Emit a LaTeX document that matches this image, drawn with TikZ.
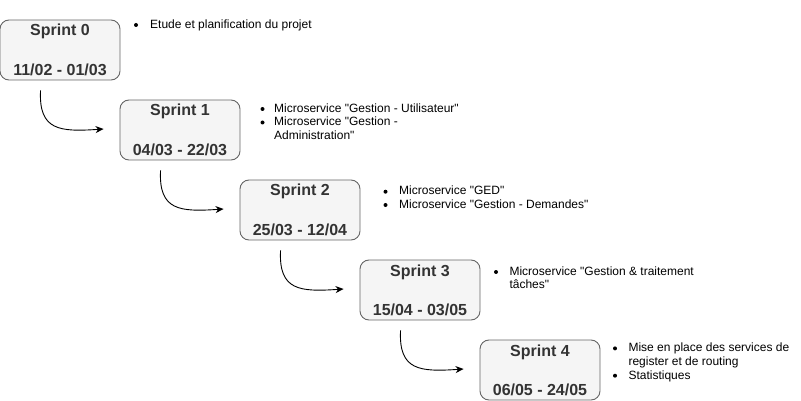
\documentclass[tikz,border=0pt]{standalone}
\usepackage{fontspec}
\newfontfamily\af{Liberation Sans}
\usetikzlibrary{arrows.meta,calc}
\definecolor{boxfill}{HTML}{F5F5F5}
\definecolor{boxline}{HTML}{666666}
\definecolor{titlecol}{HTML}{333333}
\tikzset{
  sprintbox/.style={draw=boxline,fill=boxfill,line width=0.9pt,rounded corners=9pt,minimum width=120pt,minimum height=60pt,inner sep=0pt},
  titletext/.style={font=\af\fontsize{16}{18}\selectfont\bfseries,text=titlecol,anchor=base,inner sep=0pt},
  itemtext/.style={font=\af\fontsize{12}{14}\selectfont,text=black,anchor=base west,inner sep=0pt},
  bul/.style={circle,fill=black,inner sep=0pt,minimum size=4pt},
  flow/.style={line width=0.9pt,-{Stealth[length=8pt,width=7pt,inset=2.5pt]}}
}
\begin{document}
\begin{tikzpicture}[x=1pt,y=-1pt]
\useasboundingbox (0,0) rectangle (801,401);
% boxes
\node[sprintbox] (s0) at (60,50) {};
\node[sprintbox] (s1) at (180,130) {};
\node[sprintbox] (s2) at (300,210) {};
\node[sprintbox] (s3) at (420,290) {};
\node[sprintbox] (s4) at (540,370) {};
% titles and dates
\node[titletext] (t0) at (60,36) {Sprint 0};
\node[titletext] (d0) at (60,75.5) {11/02 - 01/03};
\node[titletext] (t1) at (180,116) {Sprint 1};
\node[titletext] (d1) at (180,155.5) {04/03 - 22/03};
\node[titletext] (t2) at (300,196) {Sprint 2};
\node[titletext] (d2) at (300,235.5) {25/03 - 12/04};
\node[titletext] (t3) at (420,276) {Sprint 3};
\node[titletext] (d3) at (420,315.5) {15/04 - 03/05};
\node[titletext] (t4) at (540,356) {Sprint 4};
\node[titletext] (d4) at (540,395.5) {06/05 - 24/05};
% items sprint 0
\node[bul] (b0a) at (136,25) {};
\node[itemtext] (i0a) at (150,28.5) {Etude et planification du projet};
% items sprint 1
\node[bul] (b1a) at (262.5,109) {};
\node[itemtext] (i1a) at (274,112.3) {Microservice "Gestion - Utilisateur"};
\node[bul] (b1b) at (262.5,122.5) {};
\node[itemtext] (i1b) at (274,125.8) {Microservice "Gestion -};
\node[itemtext] (i1c) at (274,139.2) {Administration"};
% items sprint 2
\node[bul] (b2a) at (385.5,191.7) {};
\node[itemtext] (i2a) at (399,195) {Microservice "GED"};
\node[bul] (b2b) at (385.5,205) {};
\node[itemtext] (i2b) at (399,208.4) {Microservice "Gestion - Demandes"};
% items sprint 3
\node[bul] (b3a) at (496,272) {};
\node[itemtext] (i3a) at (509.3,275.3) {Microservice "Gestion \& traitement};
\node[itemtext] (i3b) at (509.3,288.7) {tâches"};
% items sprint 4
\node[bul] (b4a) at (615,348.4) {};
\node[itemtext] (i4a) at (628.3,351.7) {Mise en place des services de};
\node[itemtext] (i4b) at (628.3,365.3) {register et de routing};
\node[bul] (b4b) at (615,375.7) {};
\node[itemtext] (i4c) at (628.3,379) {Statistiques};
% connectors
\foreach \a/\b in {0/1,1/2,2/3,3/4}{
  \coordinate (c\a s) at ($(s\a.south west)+(41,10)$);
  \coordinate (c\a e) at ($(s\b.west)+(-16,-1)$);
  \draw[flow] (c\a s) .. controls +(-2,40) and +(-44,3) .. (c\a e);
}
\end{tikzpicture}
\end{document}
